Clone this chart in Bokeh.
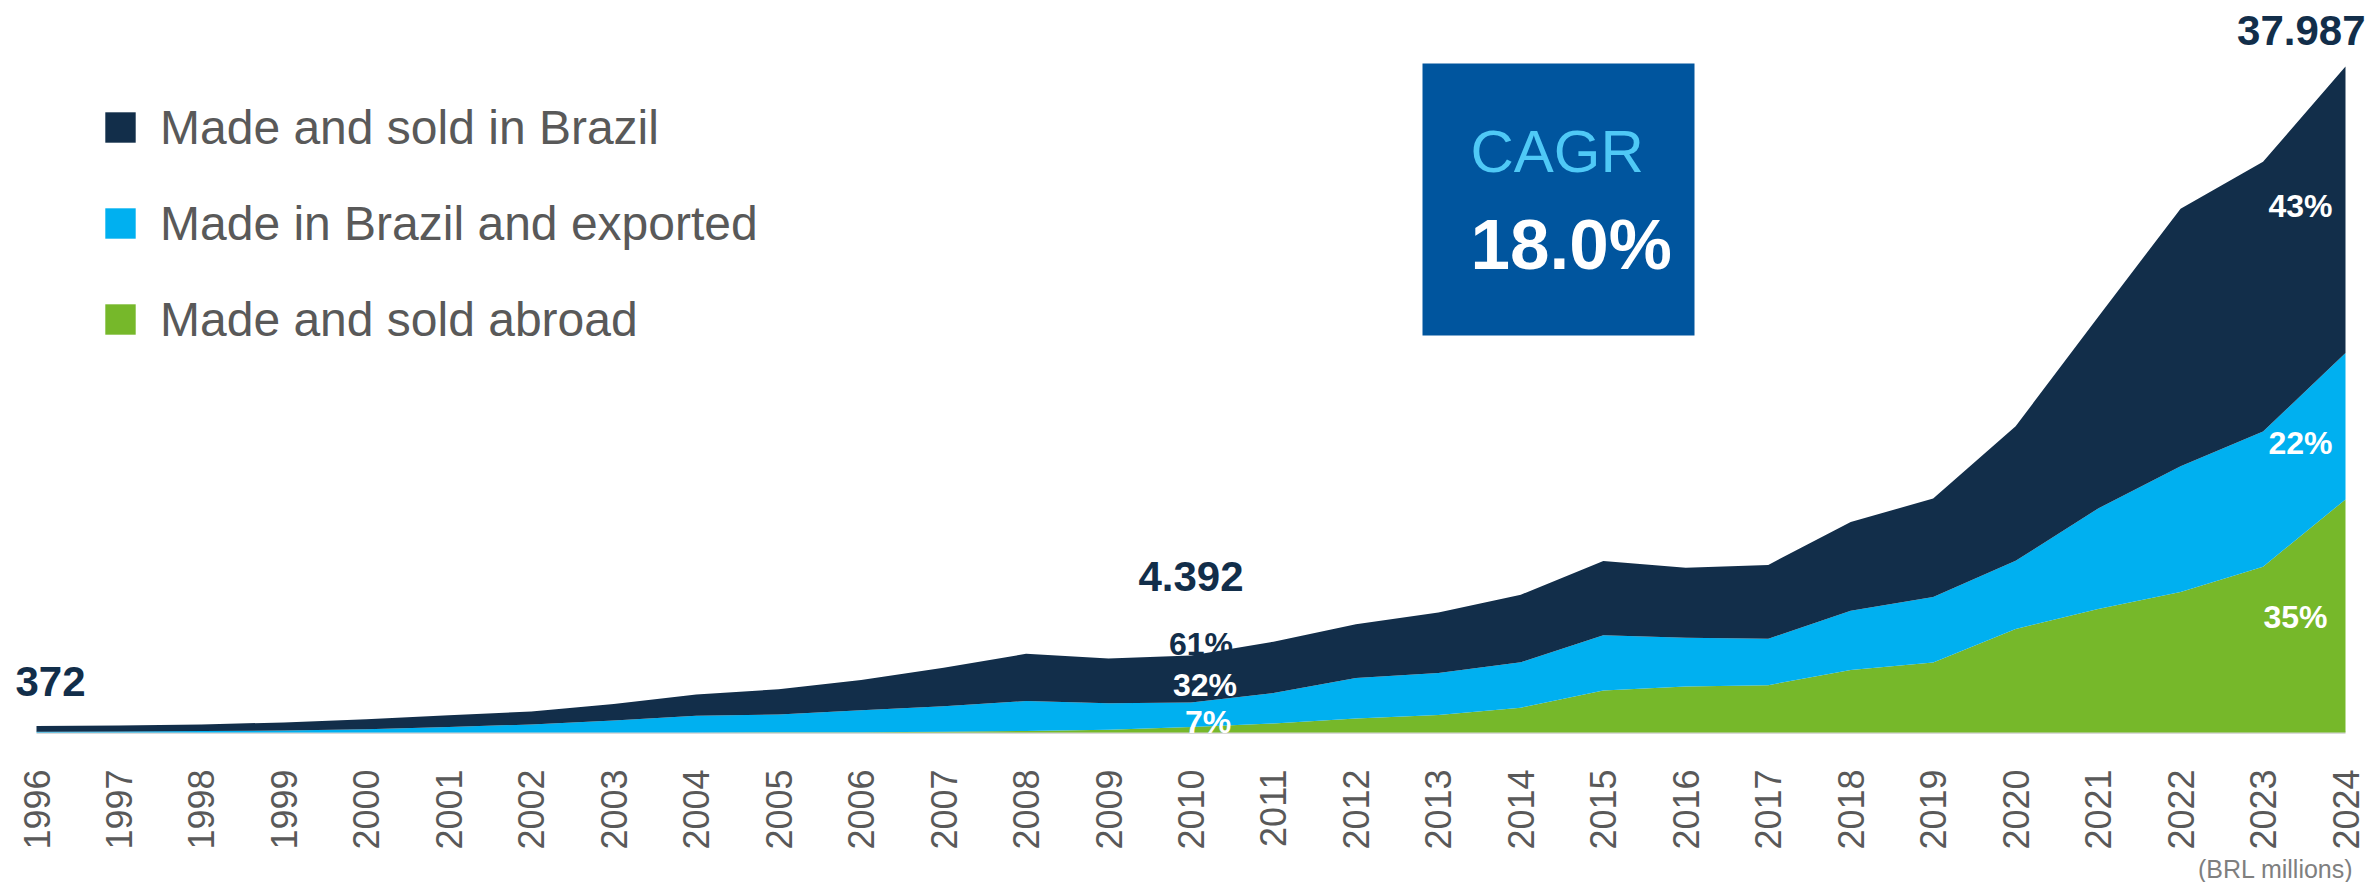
import math
from bokeh.plotting import figure
from bokeh.models import (ColumnDataSource, Range1d, FixedTicker, Legend, LegendItem,
                          Label, BoxAnnotation, Title)
from bokeh.embed import file_html
from bokeh.resources import INLINE

# ---------------- data (BRL millions) ----------------
years = list(range(1996, 2025))
made_sold_brazil = [332, 335, 380, 460, 560, 670, 740, 940, 1220, 1440,
                    1720, 2200, 2700, 2550, 2679, 2930, 3065, 3450, 3855, 4240,
                    3985, 4210, 5050, 5620, 7680, 10930, 14700, 15385, 16335]
made_brazil_exported = [40, 60, 80, 115, 190, 320, 460, 680, 945, 1020,
                        1255, 1460, 1700, 1520, 1406, 1732, 2300, 2393, 2587, 3145,
                        2779, 2648, 3380, 3740, 3890, 5725, 7170, 7705, 8357]
made_sold_abroad = [0, 0, 0, 0, 0, 0, 0, 0, 5, 10,
                    15, 40, 90, 150, 307, 518, 805, 997, 1418, 2395,
                    2626, 2702, 3570, 3990, 5900, 7045, 8010, 9460, 13295]
series_names = ["Made and sold in Brazil", "Made in Brazil and exported", "Made and sold abroad"]
year_labels = [str(y) for y in years]
total_label_years = [1996, 2010, 2024]
total_label_texts = ["372", "4.392", "37.987"]
share_2010 = ["61%", "32%", "7%"]
share_2024 = ["43%", "22%", "35%"]
cagr_title = "CAGR"
cagr_value = "18.0%"
unit_note = "(BRL millions)"

# ---------------- styles / layout ----------------
DARK = "#122E4A"
BLUE = "#00B0F0"
GREEN = "#76B82A"
BOX = "#00559E"
CYAN = "#4FC9F6"
GREY = "#595959"
FONT = "Liberation Sans"
BASELINE_FIX = 0.37            # em shift so that the text baseline lands where intended

total = [a + b + c for a, b, c in zip(made_sold_brazil, made_brazil_exported, made_sold_abroad)]
cum_blue = [b + c for b, c in zip(made_brazil_exported, made_sold_abroad)]

W, H = 2369, 882
BB = 147                       # bottom border (axis + note)
frame_h = H - BB               # frame spans the full width, from the top
X_LEFT, X_RIGHT = 36, 2345     # pixel columns of first / last year
BASE, TOP = 732, 66            # pixel rows of zero and of the last total

step = (X_RIGHT - X_LEFT) / (years[-1] - years[0])
upp = total[-1] / (BASE - TOP)                       # units per pixel
x_start = years[0] - X_LEFT / step
x_end = years[-1] + (W - X_RIGHT) / step
y_start = -(frame_h - BASE) * upp
y_end = BASE * upp

def px_x(px):
    return years[0] + (px - X_LEFT) / step

def px_y(py):
    return (BASE - py) * upp

def text_label(x, y, text, size, color, align="left", xo=0, yo=0, bold=False):
    return Label(x=x, y=y, text=text, text_align=align, x_offset=xo,
                 y_offset=yo + BASELINE_FIX * size, text_font=FONT,
                 text_font_size=f"{size}px", text_font_style="bold" if bold else "normal",
                 text_color=color, text_baseline="alphabetic")

src = ColumnDataSource(dict(year=years, dark=made_sold_brazil,
                            blue=made_brazil_exported, green=made_sold_abroad))

p = figure(width=W, height=H, x_range=Range1d(x_start, x_end),
           y_range=Range1d(y_start, y_end), output_backend="svg", toolbar_location=None,
           y_axis_location=None, min_border_left=0, min_border_right=0,
           min_border_top=0, min_border_bottom=BB, outline_line_color=None,
           background_fill_color="white", border_fill_color="white")
p.xgrid.visible = False
p.ygrid.visible = False

# baseline under the areas
p.line(x=[years[0], years[-1]], y=[0, 0], line_color="#D9D9D9", line_width=3)

rends = p.varea_stack(["green", "blue", "dark"], x="year", source=src,
                      color=[GREEN, BLUE, DARK])
r_green, r_blue, r_dark = rends

ax = p.xaxis[0]
ax.ticker = FixedTicker(ticks=years)
ax.major_label_overrides = {y: s for y, s in zip(years, year_labels)}
ax.major_label_orientation = math.pi / 2
ax.major_tick_line_color = None
ax.minor_tick_line_color = None
ax.axis_line_color = None
ax.major_label_text_font = FONT
ax.major_label_text_font_size = "36px"
ax.major_label_text_color = GREY
ax.major_label_standoff = 28

# legend
legend = Legend(items=[LegendItem(label=series_names[0], renderers=[r_dark]),
                       LegendItem(label=series_names[1], renderers=[r_blue]),
                       LegendItem(label=series_names[2], renderers=[r_green])],
                location=(101, frame_h - 99 - 248), orientation="vertical",
                glyph_width=38, glyph_height=38, label_height=56, spacing=40,
                label_standoff=21, padding=0, margin=0,
                border_line_color=None, background_fill_alpha=0,
                label_text_font=FONT, label_text_font_size="48px",
                label_text_color=GREY)
p.add_layout(legend, "center")

# CAGR box
p.add_layout(BoxAnnotation(left=px_x(1422), right=px_x(1694), top=px_y(63), bottom=px_y(335),
                           fill_color=BOX, fill_alpha=1, line_color=None, level="annotation"))
p.add_layout(text_label(px_x(1470), px_y(173), cagr_title, 60, CYAN))
p.add_layout(text_label(px_x(1470), px_y(270), cagr_value, 71, "white", bold=True))

# total value labels
tl_style = [("left", -21, 28.5), ("center", 0, 63), ("right", 20, 20)]
for yr, txt, (al, xo, yo) in zip(total_label_years, total_label_texts, tl_style):
    i = years.index(yr)
    p.add_layout(text_label(yr, total[i], txt, 42, DARK, align=al, xo=xo, yo=yo, bold=True))

# share labels 2010
i10 = years.index(2010)
anchors10 = [total[i10], cum_blue[i10], 0]
style10 = [(10, 0, DARK), (14, 6, "white"), (17, -1, "white")]
for txt, yv, (xo, yo, col) in zip(share_2010, anchors10, style10):
    p.add_layout(text_label(2010, yv, txt, 32, col, align="center", xo=xo, yo=yo, bold=True))

# share labels 2024 (anchored at band middles)
i24 = years.index(2024)
mids24 = [cum_blue[i24] + made_sold_brazil[i24] / 2,
          made_sold_abroad[i24] + made_brazil_exported[i24] / 2,
          made_sold_abroad[i24] / 2]
style24 = [(-45, -8), (-45, -29), (-50, -12.5)]
for txt, yv, (xo, yo) in zip(share_2024, mids24, style24):
    p.add_layout(text_label(2024, yv, txt, 32, "white", align="center", xo=xo, yo=yo, bold=True))

# unit note under the axis
p.add_layout(Title(text=unit_note, align="right", text_font=FONT, text_font_size="25px",
                   text_font_style="normal", text_color="#7F7F7F", standoff=0, offset=16),
             "below")

open("out.html", "w").write(file_html(p, INLINE))
